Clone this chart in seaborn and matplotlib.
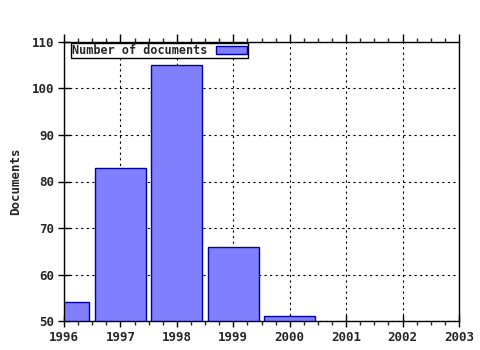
import matplotlib
matplotlib.use("Agg")
import matplotlib.pyplot as plt
import seaborn as sns
import pandas as pd
from matplotlib.ticker import MultipleLocator

years = [1996, 1997, 1998, 1999, 2000]
documents = [54, 83, 105, 66, 51]
series_label = "Number of documents"
y_label = "Documents"

sns.set_style("white")
plt.rcParams['font.family'] = ['DejaVu Sans Mono']

df = pd.DataFrame({"year": years, "docs": documents})

fig = plt.figure(figsize=(4.8, 3.5), dpi=100)
ax = fig.add_axes([64/480, 29/350, (459-64)/480, (321-42)/350])

sns.barplot(data=df, x="year", y="docs", native_scale=True, width=0.9,
            color="#8080ff", saturation=1, edgecolor="#0000a8", linewidth=1,
            label=series_label, ax=ax, zorder=2)

ax.set_xlim(1996, 2003)
ax.set_ylim(50, 110)
ax.xaxis.set_major_locator(MultipleLocator(1))
ax.xaxis.set_minor_locator(MultipleLocator(0.25))
ax.yaxis.set_major_locator(MultipleLocator(10))
ax.set_xticks(range(1996, 2004))
ax.set_xticklabels([str(y) for y in range(1996, 2004)])

ax.set_axisbelow(True)
ax.grid(True, which="major", color="black", linestyle=(0, (2, 3)), linewidth=0.8)

for sp in ax.spines.values():
    sp.set_color("black")
    sp.set_linewidth(1)

ax.tick_params(axis="both", which="major", direction="inout", length=8, width=1,
               color="black", labelsize=9, pad=3)
ax.tick_params(axis="x", which="major", top=True, bottom=True)
ax.tick_params(axis="x", which="minor", bottom=True, top=True, direction="out", length=3, width=1)
ax.tick_params(axis="y", which="major", left=True, right=False)
for lbl in ax.get_xticklabels() + ax.get_yticklabels():
    lbl.set_fontweight("bold")
# top major ticks point outward only
for t in ax.xaxis.get_major_ticks():
    t.tick2line.set_marker(matplotlib.lines.TICKUP)
    t.tick2line.set_markersize(6)

ax.set_xlabel("")
ax.set_ylabel(y_label, fontsize=9, fontweight="bold", labelpad=7)

leg = ax.legend(loc="upper left", bbox_to_anchor=(7/395, 1 - 1/279), borderaxespad=0,
                markerfirst=False, frameon=True, fancybox=False,
                edgecolor="black", framealpha=1, fontsize=8.5, handlelength=2.6,
                handleheight=0.55, borderpad=0.1, handletextpad=0.75)
leg.get_frame().set_linewidth(1)
for t in leg.get_texts():
    t.set_fontweight("bold")

fig.savefig("out.png", dpi=100)
